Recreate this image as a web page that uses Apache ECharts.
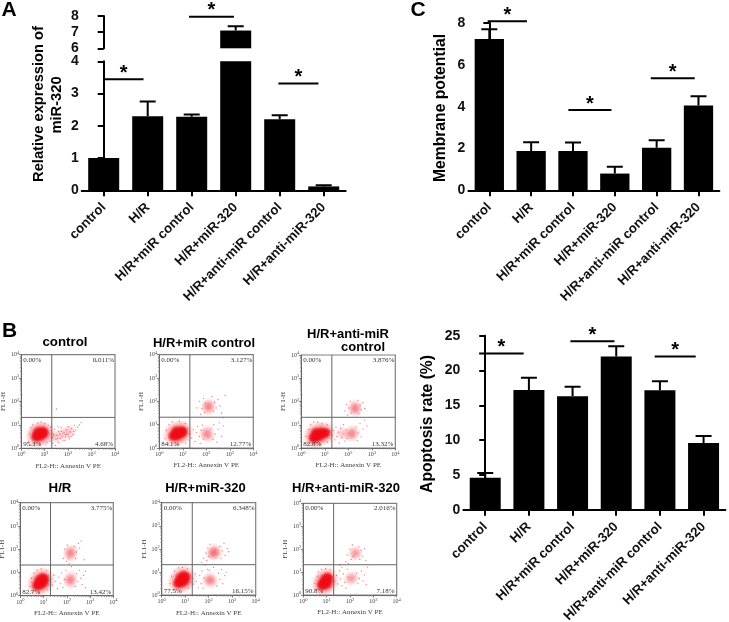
<!DOCTYPE html>
<html><head><meta charset="utf-8">
<style>html,body{margin:0;padding:0;background:#fff}#c{width:729px;height:622px}</style>
<script src="https://cdn.jsdelivr.net/npm/echarts@6/dist/echarts.min.js"></script>
</head><body><div id="c"></div>
<script>
const categories=['control','H/R','H/R+miR control','H/R+miR-320','H/R+anti-miR control','H/R+anti-miR-320'];
const miRValues=[1.0,2.3,2.28,7.1,2.2,0.12];
const miRErrors=[0,0.45,0.07,0.27,0.13,0.04];
const membraneValues=[7.24,1.88,1.88,0.8,2.04,4.05];
const membraneErrors=[0.46,0.42,0.4,0.33,0.35,0.45];
const apoptosisValues=[4.6,17.2,16.3,22.0,17.15,9.6];
const apoptosisErrors=[0.67,1.77,1.37,1.5,1.29,1.0];
const sigALower=[[0,0.905,3.44],[3.97,4.88,3.31]];
const sigAUpper=[[1.94,2.96,7.96]];
const sigC=[[-0.04,0.9,8.08],[1.89,2.92,3.84],[3.86,4.91,5.36]];
const sigD=[[-0.14,0.88,22.46],[1.95,2.96,24.2],[3.88,4.82,22.0]];

/* flow cytometry panels: positions are log10 of the fluorescence */
const controlCore=[[0.62,0.48],[0.68,0.58],[0.76,0.52],[0.8,0.64],[0.88,0.58],[0.92,0.72],[0.72,0.7],[0.98,0.66]];
const controlMid=[[1.4,0.5],[1.75,0.6],[2.05,0.72]];
const controlEvents=[[1.22,0.3],[1.3,0.62],[1.35,0.2],[1.42,0.82],[1.48,0.38],[1.52,0.55],[1.58,0.25],[1.6,0.72],[1.66,0.42],[1.7,0.9],[1.74,0.5],[1.78,0.32],[1.82,0.66],[1.88,0.48],[1.92,0.8],[1.96,0.6],[2.0,0.92],[2.05,0.4],[2.1,0.7],[2.15,0.85],[2.2,0.58],[2.26,0.98],[2.32,0.78],[2.4,0.9],[2.48,1.0],[2.56,1.1],[1.25,0.9],[1.33,0.45],[1.45,0.12],[1.56,0.95],[0.3,0.3],[0.35,0.62],[0.4,0.15],[0.42,0.88],[0.48,1.0],[0.55,0.12],[0.7,1.08],[0.85,1.12],[1.0,1.05],[1.1,0.25],[1.15,0.98],[1.05,0.15],[1.5,1.68],[3.2,3.72],[1.28,0.75],[1.38,0.58],[1.55,0.42],[1.64,0.6],[1.72,0.72],[1.86,0.34],[1.9,0.58],[2.02,0.52],[2.12,0.5],[2.24,0.72]];
const miRCtlCore=[[0.58,0.5],[0.66,0.58],[0.74,0.52],[0.82,0.66],[0.9,0.6],[0.96,0.74],[0.72,0.72],[1.02,0.68]];
const miRCtlMid=[[1.95,0.6],[2.05,0.7],[2.1,0.5],[2.05,1.78],[2.13,1.85],[2.1,1.68]];
const miRCtlEvents=[[1.3,0.6],[1.38,0.42],[1.45,0.78],[1.52,0.28],[1.58,0.66],[1.63,0.92],[1.7,0.5],[1.74,0.2],[1.78,0.76],[1.84,0.98],[1.88,0.38],[2.2,0.82],[2.28,0.38],[2.32,1.0],[2.38,0.6],[2.45,0.25],[2.5,0.8],[2.56,1.08],[2.65,0.5],[2.72,0.95],[1.6,1.72],[1.7,2.0],[1.76,1.45],[1.82,1.7],[1.88,2.12],[1.92,1.52],[1.96,1.92],[2.25,2.2],[2.3,1.58],[2.35,1.95],[2.42,1.72],[2.5,2.08],[2.58,1.8],[2.65,1.5],[2.8,2.25],[0.25,0.4],[0.3,0.75],[0.38,0.18],[0.42,1.0],[0.55,1.12],[0.7,0.12],[0.85,1.15],[1.1,1.05],[1.12,0.2],[1.2,0.85],[2.72,1.3]];
const antiCtlCore=[[0.5,0.42],[0.58,0.5],[0.66,0.46],[0.72,0.6],[0.8,0.54],[0.86,0.68],[0.62,0.66],[0.96,0.62],[1.06,0.66]];
const antiCtlMid=[[1.75,0.62],[2.05,0.6],[2.18,0.55],[2.2,0.72],[2.25,1.7],[2.32,1.62],[2.3,1.8]];
const antiCtlEvents=[[1.3,0.55],[1.36,0.75],[1.42,0.35],[1.48,0.9],[1.52,0.5],[1.58,0.68],[1.62,0.22],[1.68,0.85],[1.72,0.45],[1.8,1.0],[1.85,0.3],[1.9,0.78],[1.95,0.42],[2.32,0.9],[2.38,0.32],[2.42,0.65],[2.5,1.05],[2.55,0.48],[2.62,0.82],[2.7,1.2],[2.8,0.95],[1.85,1.6],[1.92,1.88],[1.98,1.42],[2.02,1.72],[2.08,2.02],[2.12,1.5],[2.4,2.05],[2.45,1.48],[2.5,1.85],[2.55,1.65],[2.62,1.95],[2.7,1.7],[0.2,0.5],[0.28,0.2],[0.32,0.8],[0.4,1.0],[0.52,1.12],[0.7,1.1],[0.88,1.05],[1.1,1.0],[1.12,0.25],[1.18,0.72],[1.22,0.42]];
const hrCore=[[0.7,0.42],[0.78,0.52],[0.86,0.46],[0.92,0.6],[1.0,0.56],[1.05,0.72],[0.82,0.68],[0.96,0.78]];
const hrMid=[[2.1,0.68],[2.2,0.78],[2.16,0.58],[2.12,1.85],[2.2,1.92],[2.16,1.72]];
const hrEvents=[[1.3,0.7],[1.38,0.45],[1.45,0.88],[1.52,0.62],[1.6,0.3],[1.66,0.8],[1.72,0.52],[1.78,0.98],[1.84,0.36],[1.9,0.7],[1.96,1.08],[2.36,0.4],[2.42,0.95],[2.48,0.62],[2.54,1.1],[2.6,0.75],[2.66,0.48],[2.72,0.88],[2.8,1.05],[1.85,1.6],[1.92,2.0],[1.98,1.48],[2.02,2.18],[2.08,1.62],[2.32,2.12],[2.38,1.6],[2.42,1.88],[2.5,2.25],[2.55,2.05],[2.62,2.35],[2.75,1.55],[2.8,0.35],[0.42,0.4],[0.48,0.75],[0.52,0.15],[0.6,0.98],[0.72,1.1],[0.9,1.15],[1.12,1.08],[1.18,0.25],[1.22,0.9],[1.25,0.5],[0.5,0.58],[2.1,1.38],[2.2,1.25]];
const m320Core=[[0.68,0.5],[0.76,0.6],[0.84,0.54],[0.9,0.68],[0.98,0.62],[1.04,0.78],[0.8,0.76],[0.94,0.86]];
const m320Mid=[[1.98,0.62],[2.06,0.72],[2.14,0.6],[2.2,1.85],[2.26,1.95],[2.14,1.78],[2.3,1.8]];
const m320Events=[[1.3,0.72],[1.36,0.48],[1.42,0.92],[1.48,0.6],[1.55,0.32],[1.62,0.85],[1.68,0.5],[1.72,1.05],[1.76,0.3],[1.8,0.75],[2.35,0.4],[2.42,0.95],[2.48,0.68],[2.55,1.12],[2.6,0.5],[2.68,0.85],[2.75,1.0],[1.7,1.42],[1.78,1.6],[1.84,1.3],[1.88,1.82],[1.92,1.5],[1.96,2.05],[2.0,1.68],[2.05,2.2],[2.48,2.12],[2.52,1.6],[2.58,1.92],[2.65,2.25],[2.7,1.72],[2.78,2.02],[2.85,1.88],[0.35,0.5],[0.42,0.82],[0.48,0.25],[0.55,1.05],[0.72,1.18],[0.88,1.2],[1.1,1.15],[1.15,0.3],[1.2,0.9],[1.25,0.55],[2.02,1.08],[2.2,1.2],[1.95,1.12]];
const a320Core=[[0.78,0.42],[0.84,0.5],[0.9,0.44],[0.96,0.58],[1.02,0.5],[1.08,0.68],[0.92,0.68],[1.04,0.78]];
const a320Mid=[[2.0,0.7],[2.12,0.76],[2.2,1.78],[2.26,1.86]];
const a320Events=[[1.35,0.6],[1.42,0.85],[1.48,0.48],[1.55,1.05],[1.6,0.7],[1.66,0.4],[1.72,0.92],[1.78,0.55],[1.82,0.3],[1.88,1.12],[1.92,0.78],[2.28,0.95],[2.34,0.5],[2.4,0.72],[2.48,1.05],[2.55,0.62],[2.62,0.88],[2.7,0.45],[1.82,1.45],[1.88,1.75],[1.94,1.38],[2.0,2.0],[2.05,1.55],[2.1,2.18],[2.14,1.68],[2.38,2.1],[2.42,1.55],[2.48,1.95],[2.55,1.7],[2.62,2.02],[2.68,1.5],[2.75,1.22],[0.5,0.5],[0.55,0.25],[0.6,0.82],[0.65,1.0],[0.78,1.12],[0.95,1.15],[1.15,1.1],[1.2,0.35],[1.25,0.8],[1.3,1.0],[1.55,1.3],[1.65,1.22]];

const grid=[],xAxis=[],yAxis=[],series=[],graphic=[];
const SANS='"Liberation Sans",Arial,sans-serif', SERIF='"Liberation Serif","Times New Roman",serif';

function barPanel(box,yOpt,values,errors,sig,showCats){
  const g=grid.length;
  grid.push(Object.assign({outerBoundsMode:'none'},box));
  const cat=xAxis.length;
  xAxis.push({gridIndex:g,type:'category',data:categories,show:showCats,boundaryGap:true,
    axisLine:{lineStyle:{color:'#000',width:2}},
    axisTick:{show:true,alignWithLabel:true,length:6,lineStyle:{color:'#000',width:2}},
    axisLabel:{interval:0,rotate:45,margin:15,color:'#111',hideOverlap:false,
      fontFamily:SANS,fontWeight:'bold',fontSize:13.3}});
  xAxis.push({gridIndex:g,type:'value',show:false,min:-0.5,max:5.5});
  const y=yAxis.length;
  yAxis.push(Object.assign({gridIndex:g,type:'value',splitLine:{show:false},
    axisLine:{show:true,lineStyle:{color:'#000',width:2}},
    axisTick:{show:true,length:6,lineStyle:{color:'#000',width:2}},
    axisLabel:{margin:3,color:'#111',fontFamily:SANS,fontWeight:'bold',fontSize:14}},yOpt));
  series.push({type:'bar',xAxisIndex:cat,yAxisIndex:y,data:values,barWidth:box.barW,
    itemStyle:{color:'#000'},silent:true,animation:false});
  series.push({type:'custom',xAxisIndex:cat+1,yAxisIndex:y,clip:true,animation:false,silent:true,
    data:values.map((v,i)=>[i,v,errors[i]]),
    renderItem(p,api){
      const i=api.value(0),v=api.value(1),e=api.value(2);
      if(!e) return null;
      const a=api.coord([i,v]),b=api.coord([i,v+e]);
      const st={stroke:'#000',lineWidth:2,fill:null};
      return {type:'group',children:[
        {type:'line',shape:{x1:a[0],y1:a[1],x2:b[0],y2:b[1]},style:st},
        {type:'line',shape:{x1:b[0]-8,y1:b[1],x2:b[0]+8,y2:b[1]},style:st}]};
    }});
  series.push({type:'custom',xAxisIndex:cat+1,yAxisIndex:y,clip:false,animation:false,silent:true,z:5,
    data:sig,
    renderItem(p,api){
      const a=api.coord([api.value(0),api.value(2)]),b=api.coord([api.value(1),api.value(2)]);
      return {type:'group',children:[
        {type:'line',shape:{x1:a[0],y1:a[1],x2:b[0],y2:b[1]},style:{stroke:'#000',lineWidth:2,fill:null}},
        {type:'text',x:(a[0]+b[0])/2,y:a[1]-6,style:{text:'*',fill:'#000',align:'center',verticalAlign:'middle',
          font:'bold 20px '+SANS}}]};
    }});
}
barPanel({left:81.7,top:16,width:264,height:32.3,barW:31},{min:6,max:8,interval:1},miRValues,miRErrors,sigAUpper,false);
barPanel({left:81.7,top:61.3,width:264,height:129,barW:31},{min:0,max:4,interval:1},miRValues,miRErrors,sigALower,true);
barPanel({left:468.4,top:23,width:251,height:167.3,barW:29.3},{min:0,max:8,interval:2},membraneValues,membraneErrors,sigC,true);
barPanel({left:463.4,top:335.7,width:262,height:174,barW:31},{min:0,max:25,interval:5},apoptosisValues,apoptosisErrors,sigD,true);

const flowPanels=[
 {box:[21.3,354.7,93.7,93.6],core:controlCore,mid:controlMid,ev:controlEvents,q:['0.00%','0.011%','95.3%','4.68%']},
 {box:[159.3,354.7,94,93.3],core:miRCtlCore,mid:miRCtlMid,ev:miRCtlEvents,q:['0.00%','3.127%','84.1%','12.77%']},
 {box:[301.3,355,94,93],core:antiCtlCore,mid:antiCtlMid,ev:antiCtlEvents,q:['0.00%','3.876%','82.8%','13.32%']},
 {box:[20.3,502.7,93,93],core:hrCore,mid:hrMid,ev:hrEvents,q:['0.00%','3.775%','82.7%','13.42%']},
 {box:[161.7,502.7,94,92.5],core:m320Core,mid:m320Mid,ev:m320Events,q:['0.00%','6.348%','77.5%','16.15%']},
 {box:[303.3,503.3,93.4,91.7],core:a320Core,mid:a320Mid,ev:a320Events,q:['0.00%','2.016%','90.8%','7.18%']}];
const gateX=1.3, gateY=1.32;
const toLin=a=>a.map(p=>[Math.pow(10,p[0]),Math.pow(10,p[1])]);
const soft=(c1,c2,p)=>({type:'radial',x:.5,y:.5,r:.5,colorStops:[{offset:0,color:c1},{offset:p,color:c1},{offset:1,color:c2}]});
flowPanels.forEach(f=>{
  const g=grid.length;
  grid.push({outerBoundsMode:'none',left:f.box[0],top:f.box[1],width:f.box[2],height:f.box[3],show:true,borderColor:'#808080',borderWidth:1.2,backgroundColor:'transparent'});
  const logAxis=(name,gap,rot)=>({gridIndex:g,type:'log',logBase:10,min:1,max:10000,name,nameLocation:'middle',nameGap:gap,nameRotate:rot,
    nameTextStyle:{fontFamily:SERIF,fontSize:7,color:'#444'},splitLine:{show:false},
    axisLine:{show:true,lineStyle:{color:'#666',width:1}},
    axisTick:{show:true,length:2.5,lineStyle:{color:'#666',width:.8}},
    minorTick:{show:true,splitNumber:9,length:1.5,lineStyle:{color:'#888',width:.6}},
    axisLabel:{margin:2,formatter:v=>'{b|10}{s|'+Math.round(Math.log10(v))+'}',
      rich:{b:{fontFamily:SERIF,fontSize:6,color:'#444'},s:{fontFamily:SERIF,fontSize:4.5,color:'#444',verticalAlign:'top',padding:[0,0,4,0]}}}});
  const xi=xAxis.length,yi=yAxis.length;
  xAxis.push(logAxis('FL2-H:: Annexin V PE',14,0));
  yAxis.push(logAxis('FL1-H',13,90));
  const base={type:'scatter',xAxisIndex:xi,yAxisIndex:yi,silent:true,animation:false};
  series.push(Object.assign({},base,{data:toLin(f.core),symbolSize:24,itemStyle:{color:soft('rgba(240,40,50,0.28)','rgba(240,40,50,0)',.15)}}));
  series.push(Object.assign({},base,{data:toLin(f.mid),symbolSize:15,itemStyle:{color:soft('rgba(238,40,50,0.36)','rgba(240,40,50,0)',.1)}}));
  series.push(Object.assign({},base,{data:toLin(f.ev),symbolSize:1.3,itemStyle:{color:'#f2565c',opacity:.85}}));
  series.push(Object.assign({},base,{data:toLin(f.core),symbolSize:12,itemStyle:{color:soft('#ee0a14','rgba(238,10,20,0)',.4)}}));
  series.push({type:'custom',xAxisIndex:xi,yAxisIndex:yi,clip:false,animation:false,silent:true,z:6,
    data:[[Math.pow(10,gateX),Math.pow(10,gateY)]],
    renderItem(p,api){
      const gx=api.value(0),gy=api.value(1);
      const a=api.coord([gx,1]),b=api.coord([gx,1e4]),c=api.coord([1,gy]),d=api.coord([1e4,gy]);
      const st={stroke:'#666',lineWidth:1,fill:null};
      const tx=(s,x,y,al)=>({type:'text',x,y,style:{text:s,fill:'#333',align:al,verticalAlign:'middle',font:'7px '+SERIF}});
      return {type:'group',children:[
        {type:'line',shape:{x1:a[0],y1:a[1],x2:b[0],y2:b[1]},style:st},
        {type:'line',shape:{x1:c[0],y1:c[1],x2:d[0],y2:d[1]},style:st},
        tx(f.q[0],c[0]+2,b[1]+5,'left'),tx(f.q[1],d[0]-1,b[1]+5,'right'),
        tx(f.q[2],c[0]+2,a[1]-4,'left'),tx(f.q[3],d[0]-2,a[1]-4,'right')]};
    }});
});

const T=(s,x,y,size,extra)=>graphic.push(Object.assign({type:'text',x,y,style:{text:s,fill:'#000',align:'center',verticalAlign:'middle',font:'bold '+size+'px '+SANS}},extra||{}));
T('A',9,10,21);T('C',418,10,21);T('B',9.5,331,21);
const R={rotation:Math.PI/2};
T('Relative expression of',39,104,14.7,R);T('miR-320',57,105,14.7,R);
T('Membrane potential',441,108,15.7,R);
T('Apoptosis rate (%)',428,424,15.6,R);
T('control',65,342,13.3);T('H/R+miR control',204,343,13);
T('H/R+anti-miR',348,334,13);T('control',363,347,13);
T('H/R',60,488,13.3);T('H/R+miR-320',205.5,488,13);T('H/R+anti-miR-320',346,488,13);

const chart=echarts.init(document.getElementById('c'),null,{renderer:'canvas'});
chart.setOption({animation:false,backgroundColor:'#fff',grid,xAxis,yAxis,series,graphic});
</script></body></html>
